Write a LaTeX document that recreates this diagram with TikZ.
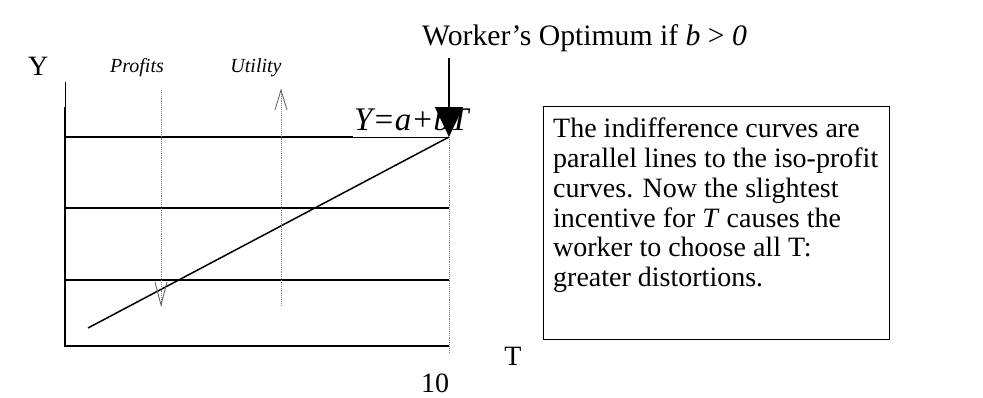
\documentclass[tikz,border=0pt]{standalone}
\usepackage{fontspec}
\setmainfont{Liberation Serif}
\usetikzlibrary{arrows.meta}
\begin{document}
\begin{tikzpicture}[x=1pt,y=-1pt,
  axis/.style={line width=1.5pt},
  level/.style={line width=1.3pt},
  thinline/.style={line width=0.6pt},
  guide/.style={densely dotted, gray, line width=0.9pt},
  vhead/.style={gray!70!black, line width=0.8pt},
  big/.style={font=\fontsize{28}{32}\selectfont, inner sep=0pt},
  small/.style={font=\fontsize{20}{24}\selectfont\itshape, inner sep=0pt},
]
\useasboundingbox (0,0) rectangle (983,397);
% coordinates
\coordinate (o) at (65,346);
\coordinate (ytopthin) at (65,82);
\coordinate (ytop) at (65,107);
\coordinate (xend) at (449,346);
\coordinate (l1a) at (65,137); \coordinate (l1m) at (353,137); \coordinate (l1b) at (449,137);
\coordinate (l2a) at (65,208); \coordinate (l2b) at (449,208);
\coordinate (l3a) at (65,280); \coordinate (l3b) at (449,280);
\coordinate (bl0) at (88,328);
\coordinate (p0) at (161,90); \coordinate (p1) at (161,305);
\coordinate (u0) at (281,90); \coordinate (u1) at (281,305);
\coordinate (v1) at (449,352);
\coordinate (arrtop) at (449,58);
% axes
\draw[thinline] (ytopthin) -- (ytop);
\draw[axis] (ytop) -- (o) -- (xend);
% iso lines
\draw[level] (l1a) -- (l1m);
\draw[thinline] (l1m) -- (l1b);
\draw[level] (l2a) -- (l2b);
\draw[level] (l3a) -- (l3b);
% budget line
\draw[axis] (bl0) -- (l1b);
% guides
\draw[guide] (p0) -- (p1);
\draw[guide] (u0) -- (u1);
\draw[guide] (l1b) -- (v1);
\draw[vhead] ([shift={(-6,-23)}]p1) -- (p1) -- ([shift={(6,-23)}]p1);
\draw[vhead] ([shift={(-6,20)}]u0) -- (u0) -- ([shift={(6,20)}]u0);
% label under the arrow
\node[big, anchor=base west, font=\fontsize{33}{35}\selectfont\itshape] (eq) at (354,130) {Y=a+bT};
% big arrow
\draw[line width=1.5pt, -{Triangle[length=30pt,width=28pt]}] (arrtop) -- (l1b);
% labels
\node[big, anchor=base west, font=\fontsize{29.7}{32}\selectfont] (title) at (422,45) {Worker’s Optimum if \textit{b} > \textit{0}};
\node[big, anchor=base west] (ylab) at (28,75) {Y};
\node[small, anchor=base] (profits) at (137,72) {Profits};
\node[small, anchor=base] (utility) at (256,72) {Utility};
\node[big, anchor=base] (ten) at (435,392) {10};
\node[big, anchor=base] (tlab) at (513,365) {T};
\node[draw, line width=1.2pt, minimum width=346pt, minimum height=233pt, anchor=north west, inner sep=0pt] (box) at (543,106) {};
\node[big, anchor=north west, align=left, font=\fontsize{28}{29.7}\selectfont] (boxtext) at ([shift={(10,12)}]box.north west) {The indifference curves are\\parallel lines to the iso-profit\\curves. Now the slightest\\incentive for \textit{T} causes the\\worker to choose all T:\\greater distortions.};
\end{tikzpicture}
\end{document}
